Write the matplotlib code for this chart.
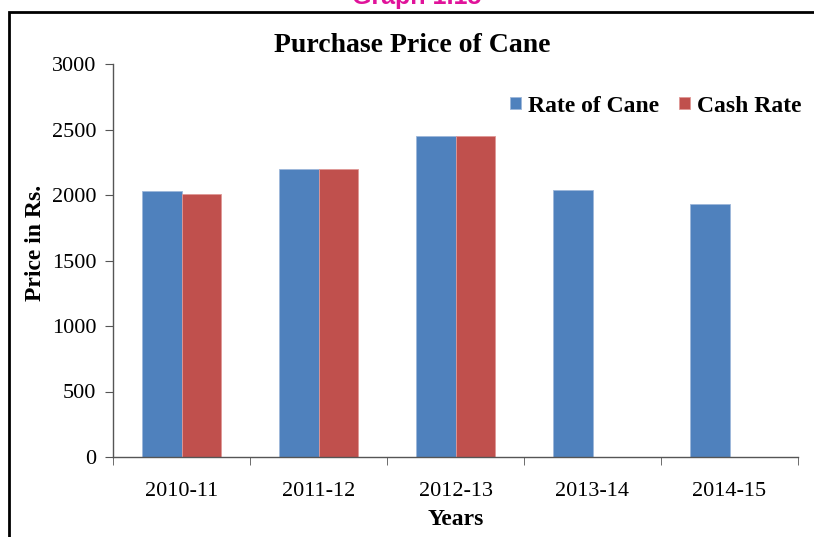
import numpy as np
import matplotlib.pyplot as plt
from matplotlib.patches import Rectangle

# -----------------------------
# Data
# -----------------------------
years = ["2010-11", "2011-12", "2012-13", "2013-14", "2014-15"]
rate_of_cane = [2030, 2200, 2450, 2040, 1930]
cash_rate = [2010, 2200, 2450, np.nan, np.nan]
y_ticks = [0, 500, 1000, 1500, 2000, 2500, 3000]

BLUE = "#4F81BD"
RED = "#C0504D"
SERIF = "Liberation Serif"

# -----------------------------
# Figure
# -----------------------------
fig = plt.figure(figsize=(8.14, 5.37), dpi=100)
ax = fig.add_axes([113 / 814, 80 / 537, 685 / 814, 393 / 537])

x = np.arange(len(years))
bw = 1 / 3.5
ax.bar(x - bw / 2, rate_of_cane, bw, color=BLUE, edgecolor="#9DB7DA",
       linewidth=0.6, label="Rate of Cane")
ax.bar(x + bw / 2, cash_rate, bw, color=RED, edgecolor="#E09896",
       linewidth=0.6, label="Cash Rate")

ax.set_xlim(-0.5, len(years) - 0.5)
ax.set_ylim(0, 3000)
ax.set_yticks(y_ticks)
ax.set_xticks(x)
ax.set_xticklabels(years)
ax.set_xticks(np.arange(-0.5, len(years)), minor=True)
ax.tick_params(axis="x", which="major", length=0, pad=18)
ax.tick_params(axis="x", which="minor", length=6, color="#555555")
ax.tick_params(axis="y", length=6, color="#555555", pad=6)
for lab in ax.get_xticklabels() + ax.get_yticklabels():
    lab.set_fontfamily(SERIF)
    lab.set_fontsize(16)

for s in ["top", "right"]:
    ax.spines[s].set_visible(False)
for s in ["left", "bottom"]:
    ax.spines[s].set_color("#555555")
    ax.spines[s].set_linewidth(1.0)

ax.set_xlabel("Years", fontfamily=SERIF, fontsize=17, fontweight="bold",
              labelpad=6)
ax.set_ylabel("Price in Rs.", fontfamily=SERIF, fontsize=17,
              fontweight="bold")
ax.yaxis.set_label_coords(-0.0978, 0.545)

fig.text(412 / 814, 1 - 45 / 537, "Purchase Price of Cane", ha="center",
         va="center", fontfamily=SERIF, fontsize=20, fontweight="bold")

leg = ax.legend(loc="center right", bbox_to_anchor=(1.005, 0.893), ncol=2,
                frameon=False, handlelength=0.45, handleheight=0.45,
                handletextpad=0.3, columnspacing=0.85, borderaxespad=0,
                borderpad=0,
                prop={"family": SERIF, "size": 17, "weight": "bold"})

# outer frame and caption cut at the top
fig.patches.append(Rectangle((9 / 814, -0.1), 1.0, 1 - 12 / 537 + 0.1,
                             transform=fig.transFigure, fill=False,
                             edgecolor="black", linewidth=2.0))
fig.text(417 / 814, 1 + 3 / 537, "Graph 1.15", ha="center", va="center",
         color="#E0139A", fontfamily="Liberation Sans", fontweight="bold",
         fontsize=18)

plt.savefig("out.png", dpi=100)
